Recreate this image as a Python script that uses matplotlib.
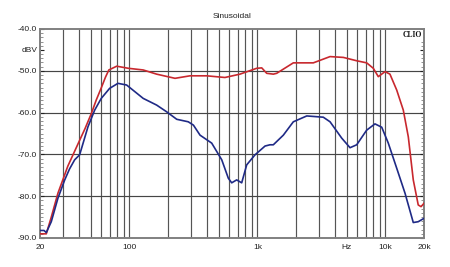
'''
plot.py

CLIO style frequency response (Sinusoidal), two curves.
'''

import matplotlib
matplotlib.use("Agg")
import matplotlib.pyplot as plt
from matplotlib.ticker import FixedLocator, NullFormatter, MultipleLocator

# Red curve (upper)
red_freq = [20, 22.4, 24.5, 27.6, 33, 39.6, 45, 50.4, 55, 60, 65, 69, 79.5, 98,
            128, 163, 227, 297, 401, 557, 730, 986, 1080, 1181, 1330, 1413,
            1906, 2730, 3690, 4690, 5960, 7130, 8035, 8790, 9920, 10840,
            12240, 13780, 15080, 16490, 18030, 18960, 20000]
red_db = [-89.0, -89.0, -85.0, -79.3, -72.8, -67.5, -63.8, -60.2, -57.0, -54.2,
          -51.5, -49.8, -48.9, -49.4, -49.8, -50.8, -51.8, -51.2, -51.2, -51.6,
          -50.8, -49.4, -49.3, -50.6, -50.8, -50.6, -48.1, -48.1, -46.6, -46.8,
          -47.6, -48.1, -49.4, -51.4, -50.2, -50.8, -54.6, -59.4, -65.8, -76.1,
          -82.1, -82.5, -81.7]

# Blue curve (lower)
blue_freq = [20, 21.5, 22.4, 24.5, 27.6, 31.2, 34, 37.3, 40.8, 47.4, 53.5, 60.2,
             70, 81.3, 95, 128, 163, 195, 234, 288, 316, 356, 439, 526, 592,
             629, 688, 753, 824, 957, 1146, 1253, 1330, 1592, 1906, 2427, 3267,
             3690, 4550, 5285, 5960, 7130, 8280, 9350, 10520, 12240, 14220,
             16490, 18030, 20000]
blue_db = [-88.2, -88.2, -88.7, -86.1, -80.5, -76.1, -73.5, -71.3, -70.1, -63.4,
           -59.4, -56.6, -54.2, -53.0, -53.4, -56.6, -58.2, -59.8, -61.6, -62.2,
           -63.0, -65.4, -67.3, -71.3, -75.7, -76.8, -76.1, -76.8, -72.5, -70.1,
           -68.0, -67.7, -67.7, -65.4, -62.2, -60.8, -61.1, -62.2, -66.1, -68.4,
           -67.7, -64.2, -62.7, -63.5, -67.3, -73.3, -79.3, -86.3, -86.1, -85.3]

x_ticks = [20, 100, 1000, 5000, 10000, 20000]
x_labels = ["20", "100", "1k", "Hz", "10k", "20k"]
y_ticks = [-40, -45, -50, -60, -70, -80, -90]
y_labels = ["-40.0", "dBV", "-50.0", "-60.0", "-70.0", "-80.0", "-90.0"]

plt.rcParams['font.family'] = ['Liberation Sans', 'DejaVu Sans']

fig = plt.figure(figsize=(4.5, 2.67), dpi=100)
ax = fig.add_axes([40 / 450, 1 - 238 / 267, 384 / 450, 209 / 267])

# vertical grid (1-2-3..9 per decade)
grid_f = [m * 10 ** e for e in (1, 2, 3) for m in range(1, 10)] + [10000, 20000]
for f in grid_f:
    if f <= 20 or f >= 20000:
        continue
    ax.axvline(f, color="#555555", lw=0.85, zorder=1)
for yv in (-50, -60, -70, -80):
    ax.axhline(yv, color="#454545", lw=0.85, zorder=1)

ax.plot(red_freq, red_db, color="#c8282e", lw=1.2, zorder=3)
ax.plot(blue_freq, blue_db, color="#1f2a86", lw=1.2, zorder=3)

ax.set_xscale("log")
ax.set_xlim(20, 20000)
ax.set_ylim(-90, -40)

ax.xaxis.set_major_locator(FixedLocator(x_ticks))
ax.set_xticklabels(x_labels)
ax.xaxis.set_minor_locator(FixedLocator([]))
ax.xaxis.set_minor_formatter(NullFormatter())
ax.tick_params(axis="x", length=0, labelsize=6, pad=4, colors="#222222")

ax.set_yticks(y_ticks)
ax.set_yticklabels(y_labels)
ax.yaxis.set_minor_locator(MultipleLocator(1))
ax.tick_params(axis="y", which="major", length=3, direction="in",
               labelsize=6, pad=2, colors="#222222", right=True)
ax.tick_params(axis="y", which="minor", length=2.5, direction="in",
               right=True, color="#666666", width=0.5)

for s in ax.spines.values():
    s.set_color("#808080")
    s.set_linewidth(1.4)

ax.set_title("Sinusoidal", fontsize=6, pad=8, color="#222222")
ax.text(0.995, 0.99, "CLIO", transform=ax.transAxes, ha="right", va="top",
        fontsize=5.5, fontweight="bold", family=["Liberation Serif", "DejaVu Serif"],
        color="#111111", zorder=4,
        bbox=dict(facecolor="white", edgecolor="none", pad=0.5))

fig.savefig("out.png", dpi=100)
plt.close(fig)
print("Saved: out.png")
